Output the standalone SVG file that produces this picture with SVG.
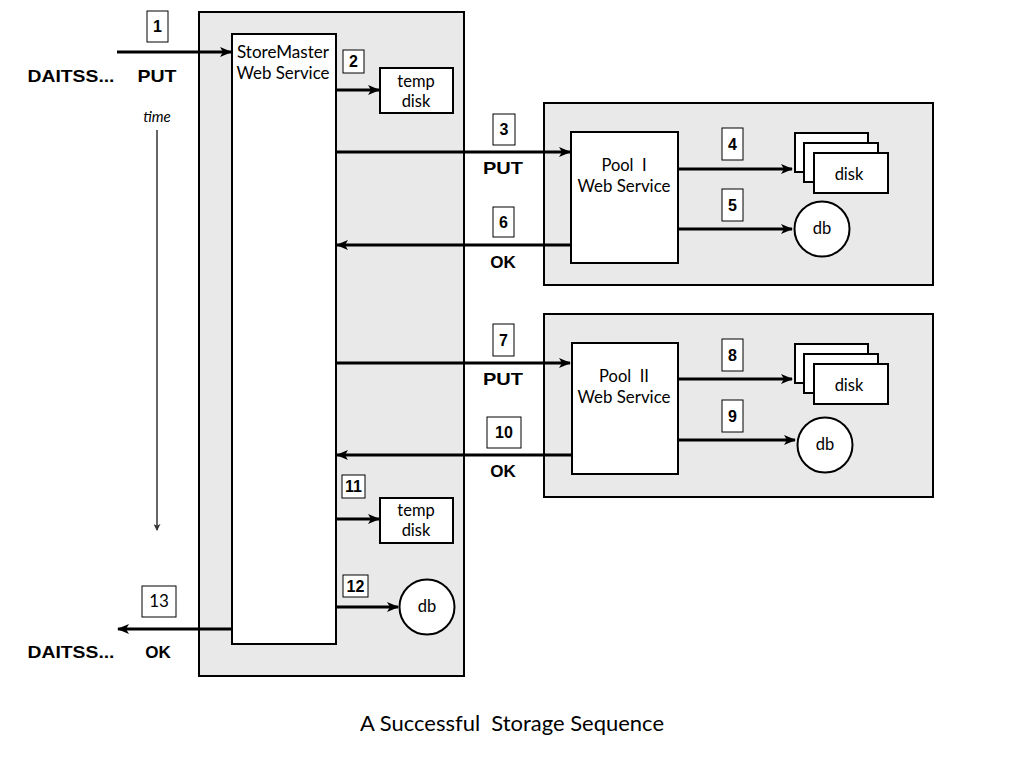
<svg xmlns="http://www.w3.org/2000/svg" width="1024" height="768" viewBox="0 0 1024 768">
<defs>
<marker id="ah" viewBox="0 0 12 10" refX="11" refY="5" markerWidth="12" markerHeight="10" markerUnits="userSpaceOnUse" orient="auto">
<path d="M0,0 L12,5 L0,10 L3,5 z" fill="#000"/>
</marker>
<marker id="ahs" viewBox="0 0 8 8" refX="7" refY="4" markerWidth="7" markerHeight="7" markerUnits="userSpaceOnUse" orient="auto">
<path d="M0,0 L8,4 L0,8 L2,4 z" fill="#333"/>
</marker>
<style>
.cont{fill:#e9e9e9;stroke:#000;stroke-width:2}
.box{fill:#fff;stroke:#000;stroke-width:2}
.nb{fill:#fff;stroke:#000;stroke-width:1}
.t{font-family:Lato,"Open Sans",sans-serif;font-size:16.5px;fill:#000;text-anchor:middle;white-space:pre}
.n{font-family:"Liberation Sans",sans-serif;font-size:16px;font-weight:bold;fill:#000;text-anchor:middle}
.b{font-family:"Liberation Sans",sans-serif;font-size:17px;font-weight:900;fill:#000;text-anchor:middle}
.c{fill:none;stroke:#000;stroke-width:3;marker-end:url(#ah)}
</style>
</defs>
<rect width="1024" height="768" fill="#fff"/>

<g id="storemaster-container"><rect class="cont" x="199" y="12" width="265" height="664"/></g>
<g id="pool1-container"><rect class="cont" x="544" y="103" width="389" height="182"/></g>
<g id="pool2-container"><rect class="cont" x="544" y="314" width="389" height="183"/></g>

<g id="storemaster">
<rect class="box" x="232" y="34" width="104" height="610"/>
<text class="t" x="283" y="58" textLength="92" lengthAdjust="spacingAndGlyphs">StoreMaster</text>
<text class="t" x="283" y="79" textLength="93" lengthAdjust="spacingAndGlyphs">Web Service</text>
</g>
<g id="tempdisk1">
<rect class="box" x="380" y="68" width="73" height="45"/>
<text class="t" x="416" y="87">temp</text>
<text class="t" x="416" y="107">disk</text>
</g>
<g id="tempdisk2">
<rect class="box" x="380" y="498" width="73" height="45"/>
<text class="t" x="416" y="516">temp</text>
<text class="t" x="416" y="536">disk</text>
</g>
<g id="db-sm">
<circle class="box" cx="427" cy="607" r="27.5"/>
<text class="t" x="427" y="612">db</text>
</g>

<g id="pool1">
<rect class="box" x="571" y="132" width="107" height="131"/>
<text class="t" x="624" y="171">Pool  I</text>
<text class="t" x="624" y="192" textLength="93" lengthAdjust="spacingAndGlyphs">Web Service</text>
</g>
<g id="disks1">
<rect class="box" x="795" y="133" width="73" height="39"/>
<rect class="box" x="804" y="143" width="74" height="39"/>
<rect class="box" x="814" y="153" width="74" height="40"/>
<text class="t" x="849" y="180">disk</text>
</g>
<g id="db1">
<circle class="box" cx="822" cy="229" r="27.5"/>
<text class="t" x="822" y="234">db</text>
</g>

<g id="pool2">
<rect class="box" x="572" y="343" width="106" height="131"/>
<text class="t" x="624" y="382">Pool  II</text>
<text class="t" x="624" y="403" textLength="93" lengthAdjust="spacingAndGlyphs">Web Service</text>
</g>
<g id="disks2">
<rect class="box" x="795" y="344" width="73" height="39"/>
<rect class="box" x="804" y="354" width="74" height="39"/>
<rect class="box" x="814" y="364" width="74" height="40"/>
<text class="t" x="849" y="391">disk</text>
</g>
<g id="db2">
<circle class="box" cx="825" cy="445" r="27.5"/>
<text class="t" x="825" y="450">db</text>
</g>

<g id="connectors">
<line class="c" x1="117" y1="52" x2="231" y2="52"/>
<line class="c" x1="336" y1="90" x2="379" y2="90"/>
<line class="c" x1="336" y1="152" x2="570" y2="152"/>
<line class="c" x1="678" y1="169" x2="792" y2="169"/>
<line class="c" x1="678" y1="229" x2="792" y2="229"/>
<line class="c" x1="571" y1="245" x2="337" y2="245"/>
<line class="c" x1="336" y1="363" x2="570" y2="363"/>
<line class="c" x1="678" y1="379" x2="792" y2="379"/>
<line class="c" x1="678" y1="440" x2="795" y2="440"/>
<line class="c" x1="572" y1="455" x2="337" y2="455"/>
<line class="c" x1="336" y1="519" x2="379" y2="519"/>
<line class="c" x1="336" y1="607" x2="398" y2="607"/>
<line class="c" x1="232" y1="629" x2="118" y2="629"/>
<line x1="157" y1="130" x2="157" y2="530" stroke="#333" stroke-width="1.5" marker-end="url(#ahs)"/>
</g>

<g id="step-labels">
<rect class="nb" x="147" y="11" width="21" height="31"/><text class="n" x="157.5" y="32">1</text>
<rect class="nb" x="343" y="50" width="21" height="23"/><text class="n" x="353.5" y="67">2</text>
<rect class="nb" x="493" y="114" width="22" height="31"/><text class="n" x="504" y="135">3</text>
<rect class="nb" x="722" y="128" width="21" height="32"/><text class="n" x="732.5" y="150">4</text>
<rect class="nb" x="722" y="189" width="21" height="32"/><text class="n" x="732.5" y="211">5</text>
<rect class="nb" x="493" y="207" width="21" height="30"/><text class="n" x="503.5" y="228">6</text>
<rect class="nb" x="493" y="324" width="21" height="32"/><text class="n" x="503.5" y="346">7</text>
<rect class="nb" x="722" y="339" width="21" height="32"/><text class="n" x="732.5" y="361">8</text>
<rect class="nb" x="722" y="400" width="21" height="32"/><text class="n" x="732.5" y="422">9</text>
<rect class="nb" x="487" y="417" width="34" height="31"/><text class="n" x="504" y="438">10</text>
<rect class="nb" x="342" y="475" width="23" height="23"/><text class="n" x="353.5" y="492">11</text>
<rect class="nb" x="343" y="575" width="25" height="22"/><text class="n" x="355.5" y="592">12</text>
<rect class="nb" x="142" y="586" width="34" height="31"/><text class="t" x="159" y="607" style="font-size:17px">13</text>
</g>

<g id="labels">
<text class="b" x="71" y="82" textLength="87" lengthAdjust="spacingAndGlyphs">DAITSS...</text>
<text class="b" x="157" y="82" textLength="39" lengthAdjust="spacingAndGlyphs">PUT</text>
<text class="t" x="157" y="122" style="font-style:italic;font-size:15px">time</text>
<text class="b" x="503" y="174" textLength="40" lengthAdjust="spacingAndGlyphs">PUT</text>
<text class="b" x="503" y="268">OK</text>
<text class="b" x="503" y="385" textLength="40" lengthAdjust="spacingAndGlyphs">PUT</text>
<text class="b" x="503" y="477">OK</text>
<text class="b" x="71" y="658" textLength="87" lengthAdjust="spacingAndGlyphs">DAITSS...</text>
<text class="b" x="158" y="658">OK</text>
<text class="t" x="512" y="731" style="font-size:22px" textLength="304" lengthAdjust="spacingAndGlyphs">A Successful  Storage Sequence</text>
</g>
</svg>
